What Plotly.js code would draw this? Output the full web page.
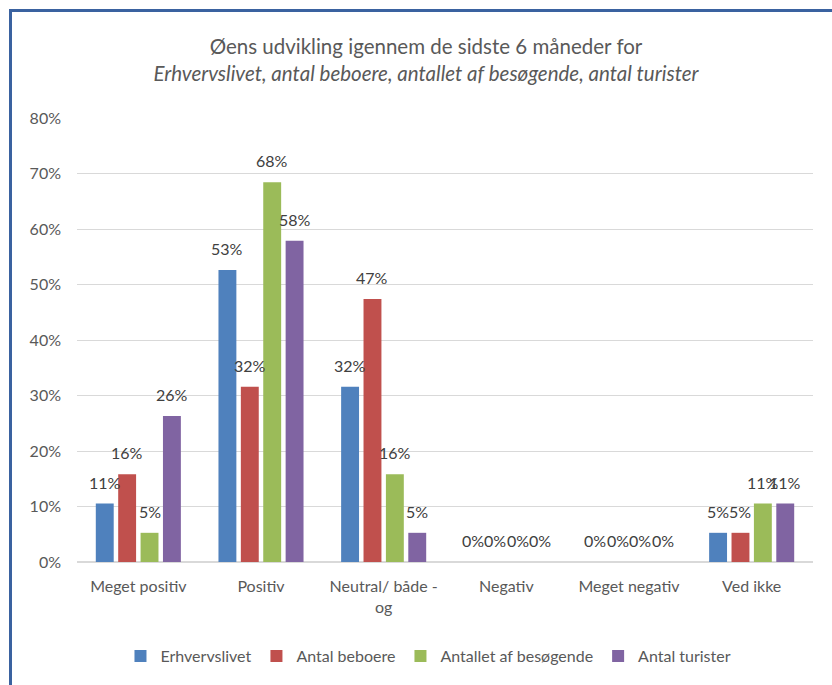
<!DOCTYPE html>
<html>
<head>
<meta charset="utf-8">
<script src="https://cdn.plot.ly/plotly-3.0.1.min.js"></script>
<style>
  html, body { margin: 0; padding: 0; background: #fff; }
  #wrap { position: relative; width: 832px; height: 685px; overflow: hidden; }
  #frame { position: absolute; left: 9px; top: 9px; width: 900px; height: 800px;
           border-left: 3px solid #3a62a0; border-top: 3px solid #3a62a0; box-sizing: border-box; pointer-events: none; z-index: 5; }
  #chart { position: absolute; left: 0; top: 0; width: 832px; height: 685px; }
</style>
</head>
<body>
<div id="wrap">
  <div id="chart"></div>
  <div id="frame"></div>
</div>
<script>
const categories = ["Meget positiv", "Positiv", "Neutral/ både -<br>og", "Negativ", "Meget negativ", "Ved ikke"];
const seriesNames = ["Erhvervslivet", "Antal beboere", "Antallet af besøgende", "Antal turister"];
const erhvervslivet = [0.1053, 0.5263, 0.3158, 0, 0, 0.0526];
const antalBeboere = [0.1579, 0.3158, 0.4737, 0, 0, 0.0526];
const antalletBesoegende = [0.0526, 0.6842, 0.1579, 0, 0, 0.1053];
const antalTurister = [0.2632, 0.5789, 0.0526, 0, 0, 0.1053];
const yTickVals = [0, 0.1, 0.2, 0.3, 0.4, 0.5, 0.6, 0.7, 0.8];

const colors = ["#4f81bd", "#c0504d", "#9bbb59", "#8064a2"];
const seriesValues = [erhvervslivet, antalBeboere, antalletBesoegende, antalTurister];

const W = 832, H = 685;
const margin = {l: 77, r: 19, t: 118, b: 123};
const bargap = 0.27;
const plotW = W - margin.l - margin.r;
const catW = plotW / categories.length;
const slotW = catW * (1 - bargap) / seriesNames.length;

const fontFam = "Lato, 'Open Sans', sans-serif";
const fs = 16;

const traces = seriesNames.map((name, i) => ({
  type: "bar",
  name: name,
  x: categories,
  y: seriesValues[i],
  marker: {color: colors[i], line: {width: 0}},
  hoverinfo: "skip"
}));

const annotations = [];
seriesValues.forEach((vals, i) => {
  const shift = (i - (seriesNames.length - 1) / 2) * slotW;
  vals.forEach((v, j) => {
    annotations.push({
      x: categories[j], y: v, xref: "x", yref: "y",
      text: Math.round(v * 100) + "%",
      showarrow: false, xanchor: "center", yanchor: "bottom",
      xshift: shift, yshift: 10,
      font: {family: fontFam, size: fs, color: "#404040"}
    });
  });
});

const layout = {
  width: W, height: H,
  margin: margin,
  paper_bgcolor: "#ffffff",
  plot_bgcolor: "#ffffff",
  barmode: "group",
  bargap: bargap,
  bargroupgap: 0.2,
  font: {family: fontFam, size: fs, color: "#595959"},
  title: {
    text: "Øens udvikling igennem de sidste 6 måneder for<br><i>Erhvervslivet, antal beboere, antallet af besøgende, antal turister</i>",
    font: {family: fontFam, size: 20.5, color: "#595959"},
    x: 0.512, xref: "container", xanchor: "center",
    y: 1 - 54 / H, yref: "container", yanchor: "middle"
  },
  xaxis: {
    type: "category",
    showgrid: false,
    showline: false,
    ticks: "",
    ticklabelstandoff: 13,
    tickfont: {family: fontFam, size: fs, color: "#595959"},
    fixedrange: true
  },
  yaxis: {
    range: [0, 0.8],
    tickvals: yTickVals,
    tickformat: ".0%",
    showgrid: true,
    gridcolor: "#d9d9d9",
    gridwidth: 1,
    zeroline: true,
    zerolinecolor: "#d9d9d9",
    zerolinewidth: 1.5,
    showline: false,
    ticks: "",
    ticklabelstandoff: 15,
    tickfont: {family: fontFam, size: fs, color: "#595959"},
    fixedrange: true
  },
  showlegend: true,
  legend: {
    orientation: "h",
    x: 0.515, xref: "container", xanchor: "center",
    y: 1 - 656 / H, yref: "container", yanchor: "middle",
    font: {family: fontFam, size: fs, color: "#595959"},
    itemwidth: 30,
    traceorder: "normal"
  },
  annotations: annotations
};

Plotly.newPlot("chart", traces, layout, {displayModeBar: false, staticPlot: true});
</script>
</body>
</html>
